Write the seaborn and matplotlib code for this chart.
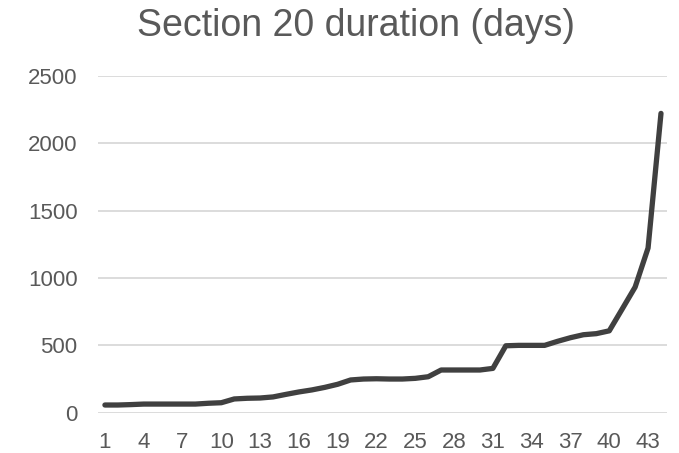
import matplotlib
matplotlib.use("Agg")
import matplotlib.pyplot as plt
import seaborn as sns
import pandas as pd

sections = list(range(1, 45))
durations = [57, 57, 60, 64, 64, 64, 64, 64, 70, 74,
             102, 107, 109, 117, 136, 154, 169, 188, 211, 243,
             250, 252, 250, 250, 255, 267, 317, 317, 317, 317,
             329, 497, 500, 500, 500, 530, 557, 579, 587, 608,
             770, 933, 1223, 2223]
x_ticks = list(range(1, 45, 3))
y_ticks = [0, 500, 1000, 1500, 2000, 2500]
title = "Section 20 duration (days)"

df = pd.DataFrame({"section": sections, "duration": durations})

sns.set_theme(style="white")
plt.rcParams['font.family'] = ['Liberation Sans', 'DejaVu Sans']

fig = plt.figure(figsize=(6.79, 4.53), dpi=100)
ax = fig.add_axes([0.145, 0.089, 0.838, 0.743])

sns.lineplot(data=df, x="section", y="duration", ax=ax, color="#404040",
             linewidth=3.8, solid_capstyle="round", solid_joinstyle="round")

ax.set_xlim(0.5, 44.5)
ax.set_ylim(0, 2500)
ax.set_xticks(x_ticks)
ax.set_yticks(y_ticks)
ax.yaxis.grid(True, color="#d9d9d9", linewidth=1.3)
ax.set_axisbelow(True)
for s in ax.spines.values():
    s.set_visible(False)
ax.tick_params(axis="both", length=0, labelsize=16, colors="#595959")
ax.tick_params(axis="y", pad=15)
ax.tick_params(axis="x", pad=14)
ax.set_xlabel("")
ax.set_ylabel("")
fig.suptitle(title, fontsize=27, color="#595959", x=0.524, y=0.982)

fig.savefig("out.png", dpi=100)
